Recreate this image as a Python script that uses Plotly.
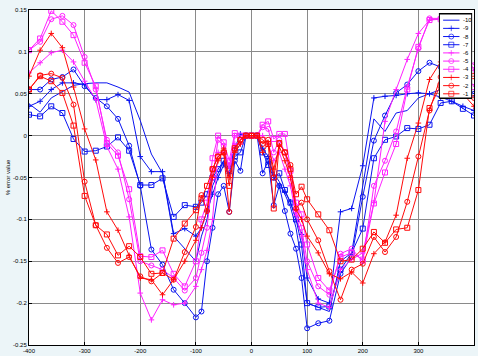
import plotly.graph_objects as go

# ---------------- data ----------------
x_vals = [-400, -380, -360, -340, -320, -300, -280, -260, -240, -220, -200, -180, -160, -140, -120, -100,
          -90, -80, -70, -60, -50, -40, -30, -20, -10, 0, 10, 20, 30, 40, 50, 60, 70, 80, 90,
          100, 120, 140, 160, 180, 200, 220, 240, 260, 280, 300, 320, 340, 360, 380, 400]

s_m10 = [0.038, 0.028, 0.045, 0.052, 0.060, 0.062, 0.063, 0.063, 0.058, 0.052, 0.018, -0.022, -0.045, -0.12, -0.135, -0.15,
         -0.12, -0.10, -0.06, -0.045, -0.03, -0.05, -0.02, -0.01, 0.0, 0.0, 0.0, -0.02, -0.03, -0.045, -0.055, -0.07, -0.085, -0.11, -0.15,
         -0.2, -0.205, -0.21, -0.15, -0.14, -0.06, 0.02, 0.005, 0.027, 0.03, 0.045, 0.05, 0.055, 0.058, 0.055, 0.05]
s_m9 = [0.035, 0.041, 0.055, 0.063, 0.063, 0.061, 0.043, 0.043, 0.049, 0.042, -0.025, -0.043, -0.043, -0.117, -0.111, -0.12,
        -0.11, -0.09, -0.07, -0.05, -0.035, -0.045, -0.015, 0.002, 0.0, 0.0, 0.0, -0.015, -0.025, -0.05, -0.06, -0.067, -0.079, -0.10, -0.118,
        -0.17, -0.195, -0.2, -0.091, -0.087, -0.036, 0.045, 0.047, 0.048, 0.05, 0.051, 0.05, 0.046, 0.041, 0.035, 0.03]
s_m8 = [0.055, 0.055, 0.067, 0.070, 0.079, 0.059, 0.045, 0.035, 0.020, -0.012, -0.06, -0.136, -0.154, -0.184, -0.2, -0.217,
        -0.21, -0.15, -0.11, -0.07, -0.06, -0.091, -0.03, -0.042, 0.0, 0.0, 0.0, -0.045, -0.03, -0.083, -0.06, -0.09, -0.117, -0.135, -0.17,
        -0.23, -0.224, -0.221, -0.165, -0.145, -0.073, -0.006, 0.024, 0.051, 0.061, 0.077, 0.087, 0.082, 0.07, 0.06, 0.05]
s_m7 = [0.025, 0.023, 0.035, 0.027, -0.004, -0.019, -0.018, -0.013, -0.002, -0.018, -0.059, -0.059, -0.051, -0.097, -0.083, -0.085,
        -0.08, -0.07, -0.05, -0.04, -0.03, -0.04, -0.025, -0.02, 0.0, 0.0, 0.0, -0.02, -0.035, -0.05, -0.045, -0.065, -0.08, -0.1, -0.13,
        -0.2, -0.205, -0.204, -0.16, -0.14, -0.111, -0.027, -0.005, -0.001, 0.009, 0.008, 0.013, 0.039, 0.041, 0.032, 0.024]
s_m6 = [0.075, 0.087, 0.099, 0.102, 0.088, 0.065, 0.043, -0.013, -0.04, -0.097, -0.188, -0.22, -0.196, -0.202, -0.2, -0.18,
        -0.16, -0.137, -0.10, -0.02, -0.02, -0.035, -0.01, -0.01, 0.0, 0.0, 0.0, 0.0, -0.01, -0.03, -0.02, -0.04, -0.06, -0.095, -0.12,
        -0.16, -0.2, -0.205, -0.16, -0.148, -0.14, -0.08, 0.017, 0.055, 0.091, 0.122, 0.138, 0.14, 0.12, 0.1, 0.078]
s_m5 = [0.102, 0.112, 0.139, 0.143, 0.132, 0.094, 0.055, -0.005, -0.02, -0.076, -0.15, -0.155, -0.16, -0.17, -0.185, -0.17,
        -0.14, -0.11, -0.05, -0.005, -0.012, -0.04, 0.0, -0.005, 0.0, 0.0, 0.0, 0.01, 0.008, -0.02, -0.005, -0.02, -0.05, -0.09, -0.11,
        -0.15, -0.18, -0.19, -0.141, -0.135, -0.15, -0.06, -0.03, 0.005, 0.058, 0.104, 0.14, 0.14, 0.12, 0.1, 0.084]
s_m4 = [0.102, 0.116, 0.149, 0.136, 0.120, 0.087, 0.059, -0.009, -0.024, -0.064, -0.144, -0.145, -0.137, -0.165, -0.18, -0.15,
        -0.10, -0.08, -0.027, 0.0, -0.008, -0.03, 0.003, 0.0, 0.0, 0.0, 0.0, 0.013, 0.017, -0.004, 0.002, 0.002, -0.042, -0.08, -0.094,
        -0.13, -0.17, -0.185, -0.145, -0.14, -0.148, -0.081, -0.044, -0.01, 0.055, 0.106, 0.138, 0.139, 0.11, 0.08, 0.058]
s_m3 = [0.071, 0.102, 0.122, 0.105, 0.058, 0.008, -0.029, -0.091, -0.113, -0.143, -0.17, -0.172, -0.19, -0.172, -0.15, -0.125,
        -0.11, -0.09, -0.05, -0.03, -0.015, -0.05, -0.02, -0.01, 0.0, 0.0, 0.0, -0.02, -0.01, -0.04, -0.013, -0.03, -0.05, -0.088, -0.1,
        -0.12, -0.14, -0.165, -0.171, -0.163, -0.176, -0.141, -0.127, -0.095, -0.027, 0.015, 0.067, 0.088, 0.07, 0.05, 0.035]
s_m2 = [0.055, 0.072, 0.074, 0.069, 0.037, -0.055, -0.107, -0.134, -0.152, -0.145, -0.168, -0.174, -0.164, -0.172, -0.139, -0.109,
        -0.071, -0.09, -0.04, -0.025, -0.02, -0.091, -0.017, -0.005, 0.0, 0.0, 0.0, -0.01, -0.005, -0.05, -0.009, -0.02, -0.035, -0.087, -0.08,
        -0.1, -0.125, -0.162, -0.196, -0.16, -0.153, -0.121, -0.139, -0.121, -0.079, -0.025, 0.03, 0.07, 0.06, 0.05, 0.045]
s_m1 = [0.055, 0.071, 0.065, 0.051, 0.012, -0.072, -0.107, -0.118, -0.143, -0.132, -0.145, -0.165, -0.164, -0.123, -0.105, -0.089,
        -0.075, -0.06, -0.04, -0.025, -0.02, -0.06, -0.015, -0.005, 0.0, 0.0, 0.0, -0.005, -0.01, -0.087, -0.009, -0.02, -0.04, -0.07, -0.061,
        -0.076, -0.094, -0.113, -0.15, -0.148, -0.135, -0.115, -0.128, -0.112, -0.11, -0.065, 0.033, 0.06, 0.068, 0.07, 0.071]

series_names = ['-10', '-9', '-8', '-7', '-6', '-5', '-4', '-3', '-2', '-1']
series_values = [s_m10, s_m9, s_m8, s_m7, s_m6, s_m5, s_m4, s_m3, s_m2, s_m1]

x_tick_vals = [-400, -300, -200, -100, 0, 100, 200, 300, 400]
x_tick_text = ['-400', '-300', '-200', '-100', '0', '100', '200', '300', '400']
y_tick_vals = [-0.25, -0.2, -0.15, -0.1, -0.05, 0, 0.05, 0.1, 0.15]
y_tick_text = ['-0.25', '-0.2', '-0.15', '-0.1', '-0.05', '0', '0.05', '0.1', '0.15']

# ---------------- styles ----------------
BLUE = '#0a14f0'
MAGENTA = '#ff20ff'
RED = '#ff0a0a'
BG = '#ecf5f8'
styles = [
    (BLUE, None), (BLUE, 'cross-thin-open'), (BLUE, 'circle-open'), (BLUE, 'square-open'),
    (MAGENTA, 'cross-thin-open'), (MAGENTA, 'circle-open'), (MAGENTA, 'square-open'),
    (RED, 'cross-thin-open'), (RED, 'circle-open'), (RED, 'square-open'),
]

fig = go.Figure()
for name, vals, (col, sym) in zip(series_names, series_values, styles):
    if sym is None:
        fig.add_trace(go.Scatter(x=x_vals, y=vals, mode='lines', name=name,
                                 line=dict(color=col, width=1), showlegend=False))
    else:
        fig.add_trace(go.Scatter(x=x_vals, y=vals, mode='lines+markers', name=name,
                                 line=dict(color=col, width=1),
                                 marker=dict(symbol=sym, size=5 if 'cross' not in sym else 4,
                                             color=col, line=dict(color=col, width=1)),
                                 showlegend=False))

# ---------------- legend drawn in a small inset axis (opaque box over the data) ----------------
fig.add_trace(go.Scatter(x=[0, 1, 1, 0, 0], y=[0, 0, 1, 1, 0], mode='lines', fill='toself',
                         fillcolor='white', line=dict(color='black', width=1.5),
                         xaxis='x2', yaxis='y2', showlegend=False, hoverinfo='skip'))
n = len(series_names)
row_y = [1 - (0.075 + i * 0.0969) for i in range(n)]
for name, (col, sym), ry in zip(series_names, styles, row_y):
    if sym is None:
        fig.add_trace(go.Scatter(x=[0.12, 0.62], y=[ry, ry], mode='lines', xaxis='x2', yaxis='y2',
                                 line=dict(color=col, width=1), showlegend=False, hoverinfo='skip'))
    else:
        fig.add_trace(go.Scatter(x=[0.12, 0.37, 0.62], y=[ry, ry, ry], mode='lines+markers',
                                 xaxis='x2', yaxis='y2', line=dict(color=col, width=1),
                                 marker=dict(symbol=sym, size=[0, 5 if 'cross' not in sym else 4, 0],
                                             color=col, line=dict(color=col, width=1)),
                                 showlegend=False, hoverinfo='skip'))
    fig.add_annotation(x=0.66, y=ry, xref='x2', yref='y2', text=name, showarrow=False,
                       xanchor='left', yanchor='middle', font=dict(size=6, color='black'))

axis_common = dict(showgrid=True, gridcolor='#8a8a8a', gridwidth=1, zeroline=False,
                   showline=True, linecolor='black', linewidth=1, mirror=True,
                   ticks='inside', ticklen=3, tickcolor='black', automargin=False,
                   tickfont=dict(size=6, color='black', family='Liberation Sans, Arial, sans-serif'))

fig.update_layout(
    width=478, height=356,
    margin=dict(l=29, r=4, t=10, b=11, autoexpand=False),
    paper_bgcolor=BG, plot_bgcolor='white',
    font=dict(family='Liberation Sans, Arial, sans-serif', size=6, color='black'),
    xaxis=dict(range=[-400, 400], tickvals=x_tick_vals, ticktext=x_tick_text, domain=[0, 1],
               ticklabelstandoff=0, **axis_common),
    yaxis=dict(range=[-0.25, 0.15], tickvals=y_tick_vals, ticktext=y_tick_text, domain=[0, 1],
               ticklabelstandoff=0,
               title=dict(text='% error value', font=dict(size=6), standoff=2), **axis_common),
    xaxis2=dict(domain=[0.921, 0.996], range=[-0.01, 1.01], visible=False, anchor='y2'),
    yaxis2=dict(domain=[0.734, 0.991], range=[-0.01, 1.01], visible=False, anchor='x2'),
    showlegend=False,
)

fig.write_html('out.html', config={'displayModeBar': False},
               post_script="document.body.style.margin='0px';document.body.style.background='%s';" % BG)
